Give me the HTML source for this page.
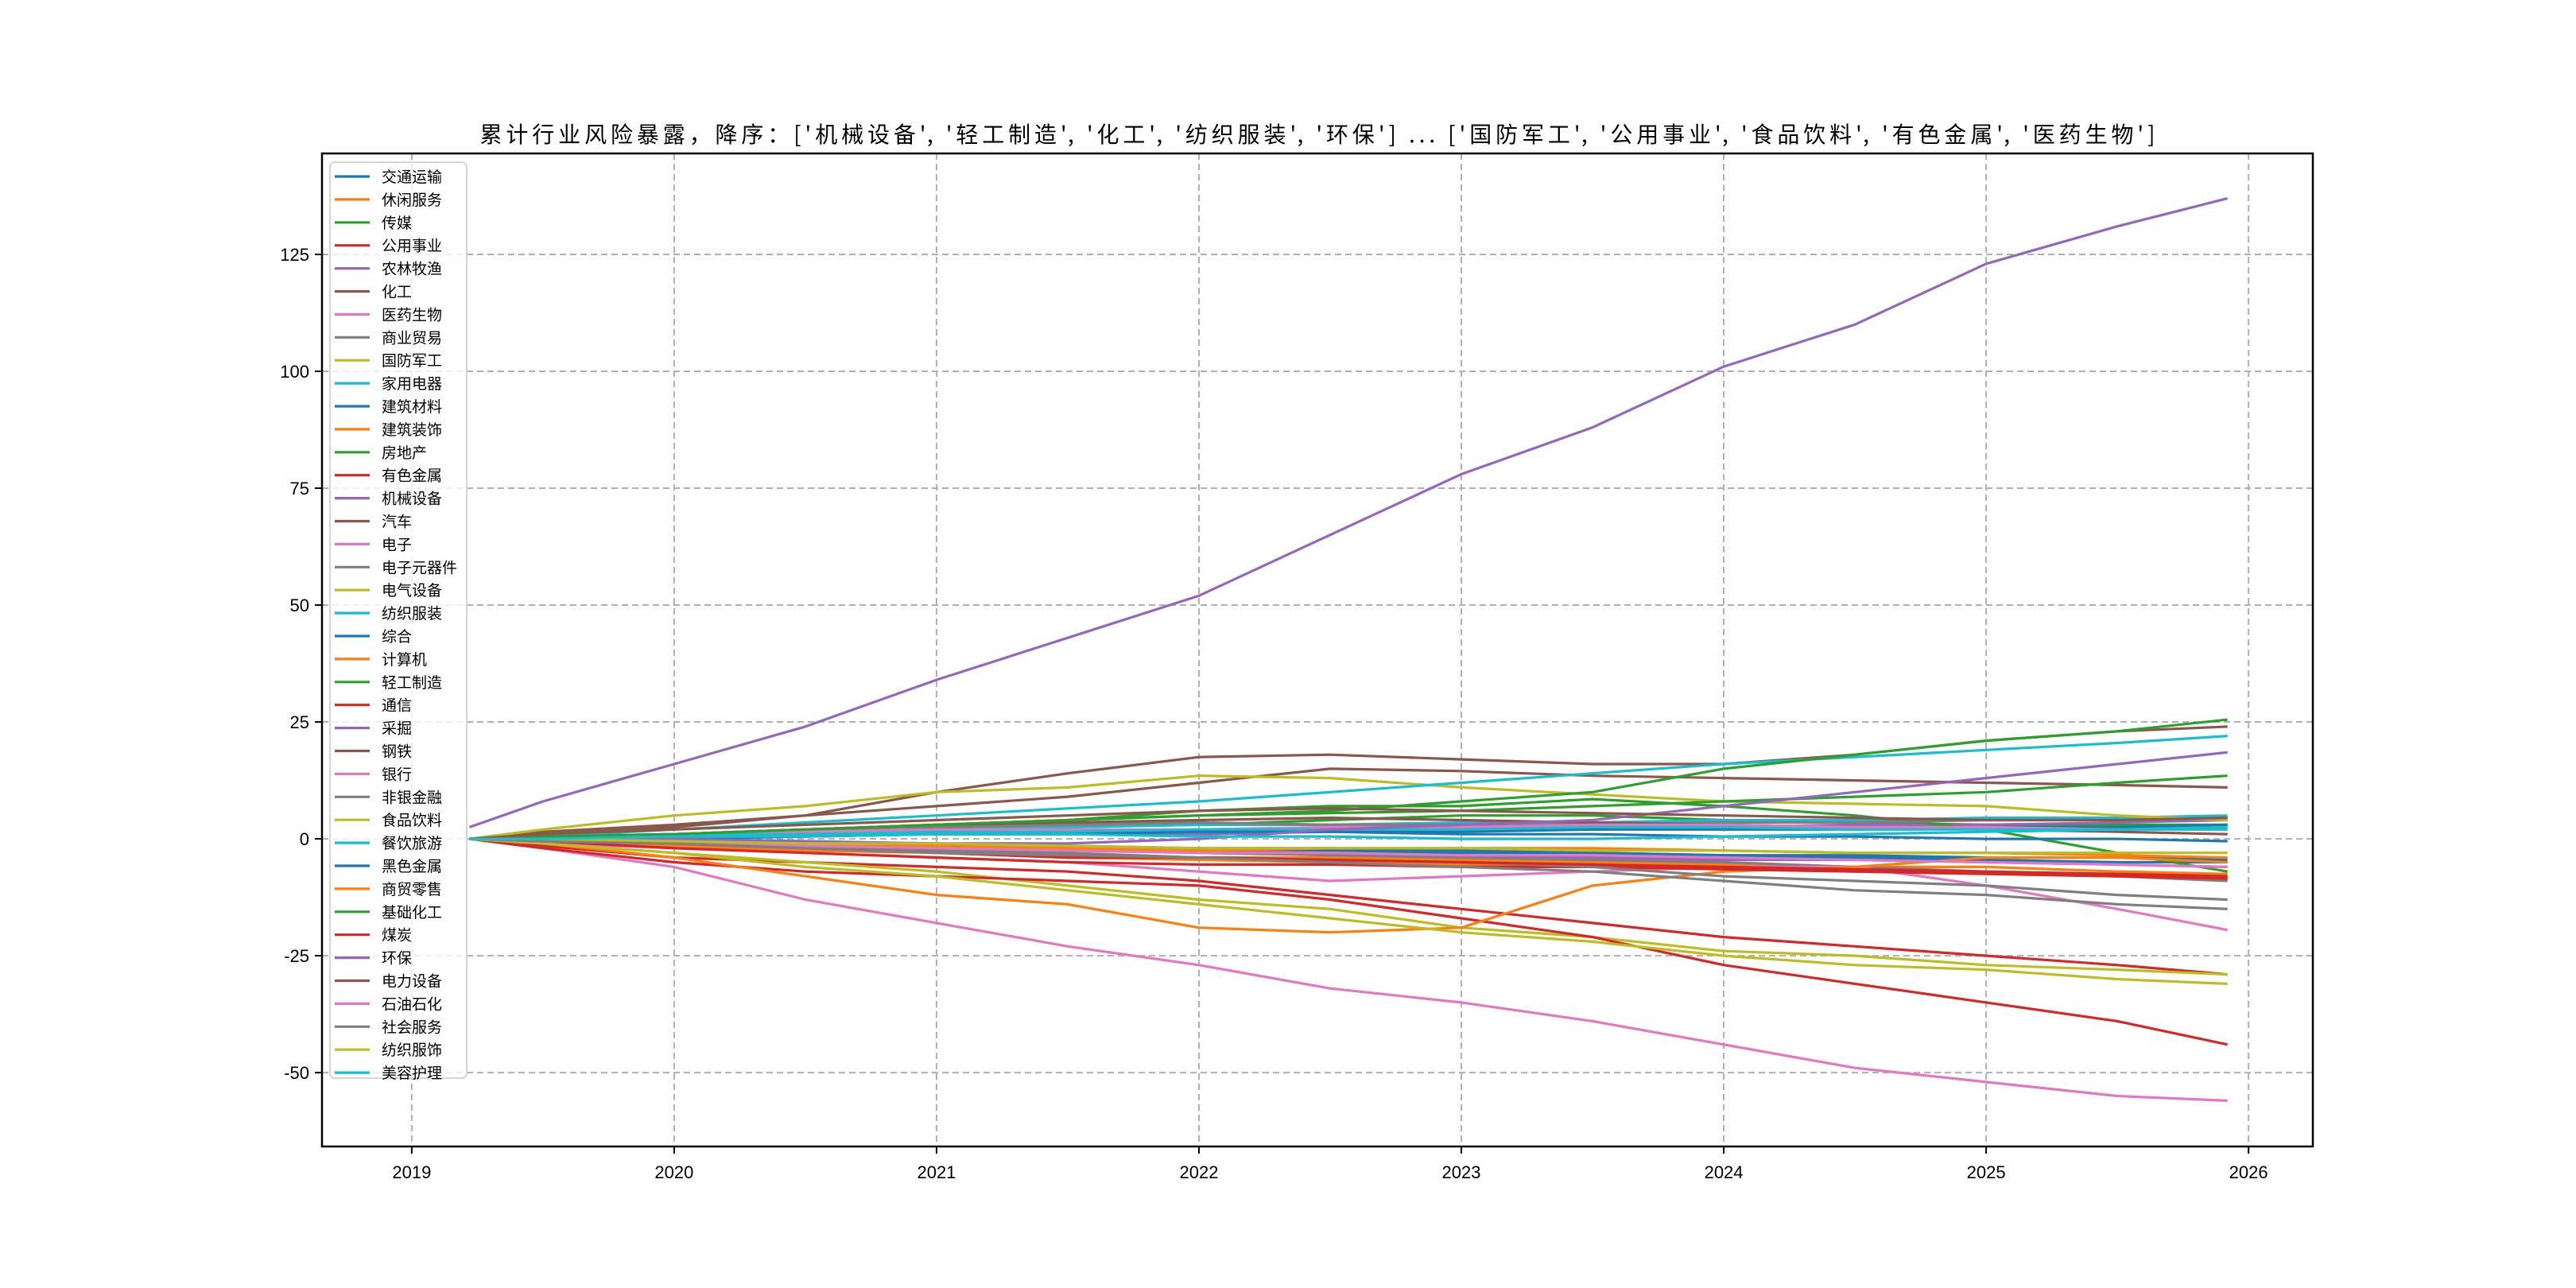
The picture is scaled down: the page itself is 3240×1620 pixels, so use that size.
<!DOCTYPE html>
<html><head><meta charset="utf-8">
<style>
html,body{margin:0;padding:0;background:#fff;}
svg{display:block;font-family:"Liberation Sans","Noto Sans CJK SC","WenQuanYi Zen Hei",sans-serif;}
</style></head>
<body>
<svg id="chart" width="3240" height="1620" viewBox="0 0 3240 1620" xmlns="http://www.w3.org/2000/svg">
<rect x="0" y="0" width="3240" height="1620" fill="#fff"/>
<text x="1657" y="179" text-anchor="middle" font-size="28" fill="#000" textLength="2107" lengthAdjust="spacing" style="font-family:'Noto Sans CJK SC','WenQuanYi Zen Hei',sans-serif">累计行业风险暴露，降序：['机械设备', '轻工制造', '化工', '纺织服装', '环保'] ... ['国防军工', '公用事业', '食品饮料', '有色金属', '医药生物']</text>
<g id="grid"></g>
<g id="series"></g>
<rect x="405" y="193" width="2504" height="1249" fill="none" stroke="#000" stroke-width="2.5"/>
<g id="axes"></g>
<g id="legend"></g>
</svg>
<script>
const times = [2019.22,2019.5,2020,2020.5,2021,2021.5,2022,2022.5,2023,2023.5,2024,2024.5,2025,2025.5,2025.92];
const xTicks = [2019,2020,2021,2022,2023,2024,2025,2026];
const yTicks = [-50,-25,0,25,50,75,100,125];
const names = ['交通运输','休闲服务','传媒','公用事业','农林牧渔','化工','医药生物','商业贸易','国防军工','家用电器','建筑材料','建筑装饰','房地产','有色金属','机械设备','汽车','电子','电子元器件','电气设备','纺织服装','综合','计算机','轻工制造','通信','采掘','钢铁','银行','非银金融','食品饮料','餐饮旅游','黑色金属','商贸零售','基础化工','煤炭','环保','电力设备','石油石化','社会服务','纺织服饰','美容护理'];
const s00=[0,0,-0.5,-1,-1,-1.5,-2,-2,-2.5,-3,-3.5,-4,-4.5,-5,-5];
const s01=[0,-0.5,-1,-2,-3,-3.5,-4,-4,-4.5,-5,-5.5,-6,-6,-7,-7.5];
const s02=[0,0.5,1,1.5,2,2.5,3,4,5,5,4,3.5,3,3,3];
const s03=[0,-1.5,-4,-5,-6,-7,-9,-12,-15,-18,-21,-23,-25,-27,-29];
const s04=[0,0,0.5,0.5,1,1,1,1.5,2,2,2.5,3,3,3.5,4];
const s05=[0,1.5,3,5,10,14,17.5,18,17,16,16,18,21,23,24];
const s06=[0,-2,-6,-13,-18,-23,-27,-32,-35,-39,-44,-49,-52,-55,-56];
const s07=[0,-0.5,-1,-1.5,-2,-2.5,-3,-3.5,-4,-4.5,-5,-6,-7,-8,-9];
const s08=[0,-1,-3,-5,-7,-10,-13,-15,-19,-21,-24,-25,-27,-28,-29];
const s09=[0,0.5,1,1.5,2,2.5,3,3,3.5,3.5,4,4,4.5,4.5,5];
const s10=[0,0,0,0.5,1,1,1.5,1.5,1.5,2,2,2,2.5,2.5,3];
const s11=[0,-0.5,-1.5,-2.5,-3,-4,-4.5,-5,-5.5,-6,-6.5,-7,-7.5,-8,-8.5];
const s12=[0,0.5,1,2,3,4,6,7,7,8.5,7,5,2,-3,-7];
const s13=[0,-2,-5,-7,-8,-9,-10,-13,-17,-21,-27,-31,-35,-39,-44];
const s14=[2.5,8,16,24,34,43,52,65,78,88,101,110,123,131,137];
const s15=[0,1,2.5,5,7,9,12,15,14.5,13.5,13,12.5,12,11.5,11];
const s16=[0,-1,-2,-3,-4,-5,-7,-9,-8,-7,-6,-6,-10,-15,-19.5];
const s17=[0,0.5,1,2,2.5,3,3.5,3,3,3,3.5,3.5,4,4,4.5];
const s18=[0,2,5,7,10,11,13.5,13,11,9.5,8,7.5,7,5,4];
const s19=[0,0.5,2,3.5,5,6.5,8,10,12,14,16,17.5,19,20.5,22];
const s20=[0,-0.5,-1,-1.5,-2,-2,-2.5,-2.5,-3,-3,-3.5,-3.5,-4,-4,-4.5];
const s21=[0,-1,-4,-8,-12,-14,-19,-20,-19,-10,-7,-6,-4,-4,-5];
const s22=[0,0.5,1,2,3,4,5,6,8,10,15,18,21,23,25.5];
const s23=[0,-0.5,-2,-3,-4,-5,-5.5,-5.5,-6,-6,-6.5,-7,-7.5,-8,-8.5];
const s24=[0,0,-0.5,-1,-1.5,-2,-2.5,-3,-3.5,-4,-4.5,-4.5,-5,-5.5,-6];
const s25=[0,0.5,1,2,3,3.5,4,4.5,4,3.5,3,2.5,2,1.5,1];
const s26=[0,0.5,1,1.5,2,2,2,2.5,2.5,3,3,2.5,2.5,2,2];
const s27=[0,-0.5,-1,-2,-2.5,-3,-4,-4.5,-5,-6,-8,-9,-10,-12,-13];
const s28=[0,-1,-3,-6,-8,-11,-14,-17,-20,-22,-25,-27,-28,-30,-31];
const s29=[0,0.5,1,1,1.5,1.5,2,2,2,2.5,2.5,2,2,2,2];
const s30=[0,0,0.5,0.5,1,1,1.5,1.5,1,1,0.5,0.5,0,0,-0.5];
const s31=[0,0,-0.5,-1,-1.5,-2,-2.5,-2,-2,-2,-2.5,-3,-3,-3.5,-4];
const s32=[0,0.5,1,2,3,4,5,5.5,6,7,8,9,10,12,13.5];
const s33=[0,-0.5,-1,-2,-3,-4,-4,-4.5,-5,-5.5,-6,-6.5,-7,-7.5,-8];
const s34=[0,0,0,-0.5,-1,-1,0,2,3,4,7,10,13,16,18.5];
const s35=[0,1,2,3,4,5,6,6.5,6,5.5,5,4.5,4,4,4.5];
const s36=[0,-0.5,-1,-1.5,-2,-2.5,-3,-3,-3.5,-3.5,-4,-4.5,-5,-5.5,-6];
const s37=[0,-0.5,-1,-2,-3,-3.5,-4,-5,-6,-7,-9,-11,-12,-14,-15];
const s38=[0,0,-0.5,-1,-1,-1.5,-2,-2,-2,-2.5,-2.5,-3,-3,-3,-3];
const s39=[0,0,0.5,0.5,1,1,0.5,0.5,0,0,0.5,1,1.5,2,2.5];
const seriesValues=[s00,s01,s02,s03,s04,s05,s06,s07,s08,s09,s10,s11,s12,s13,s14,s15,s16,s17,s18,s19,s20,s21,s22,s23,s24,s25,s26,s27,s28,s29,s30,s31,s32,s33,s34,s35,s36,s37,s38,s39];

const NS='http://www.w3.org/2000/svg';
const L=405,R=2909,T=193,B=1442;
const X0=2018.658,X1=2026.245, Y0=-65.8, Y1=146.6;
const xs=v=>L+(v-X0)/(X1-X0)*(R-L);
const ys=v=>B-(v-Y0)/(Y1-Y0)*(B-T);
const palette=['#1f77b4','#ff7f0e','#2ca02c','#d62728','#9467bd','#8c564b','#e377c2','#7f7f7f','#bcbd22','#17becf'];
function mk(tag,attrs,parent){const e=document.createElementNS(NS,tag);for(const k in attrs)e.setAttribute(k,attrs[k]);parent.appendChild(e);return e;}
const grid=document.getElementById('grid'),axes=document.getElementById('axes'),ser=document.getElementById('series'),leg=document.getElementById('legend');
xTicks.forEach(t=>{const x=xs(t);
 const g=mk('line',{x1:x,x2:x,y1:T,y2:B,stroke:'#b0b0b0','stroke-width':2,'stroke-dasharray':'8,5'},grid);
 
 
 const tk=mk('line',{x1:x,x2:x,y1:B,y2:B+9,stroke:'#000','stroke-width':2},axes);
 
 
 const tx=mk('text',{x:x,y:B+40,'text-anchor':'middle','font-size':22,fill:'#000'},axes);
 tx.textContent=t;
 
 
});
yTicks.forEach(t=>{const y=ys(t);
 const g=mk('line',{x1:L,x2:R,y1:y,y2:y,stroke:'#b0b0b0','stroke-width':2,'stroke-dasharray':'8,5'},grid);
 
 
 const tk=mk('line',{x1:L-9,x2:L,y1:y,y2:y,stroke:'#000','stroke-width':2},axes);
 
 
 const tx=mk('text',{x:L-16,y:y+8,'text-anchor':'end','font-size':22,fill:'#000'},axes);
 tx.textContent=t;
 
 
});
seriesValues.forEach((vals,i)=>{
 const pts=vals.map((v,j)=>xs(times[j]).toFixed(1)+','+ys(v).toFixed(1)).join(' ');
 const p=mk('polyline',{points:pts,fill:'none',stroke:palette[i%10],'stroke-width':3.2,'stroke-linejoin':'round'},ser);
 
 
});
const lb=mk('rect',{x:415,y:204,width:172,height:1152,rx:6,fill:'#fff','fill-opacity':0.8,stroke:'#d5d5d5','stroke-width':2},leg);


names.forEach((n,i)=>{const y=222+i*28.9;
 const g=mk('g',{},leg);
 
 
 mk('line',{x1:421,x2:465,y1:y,y2:y,stroke:palette[i%10],'stroke-width':3.2},g);
 const t=mk('text',{x:480,y:y+7,'font-size':19,fill:'#000'},g);
 t.textContent=n;
});
</script>
</body></html>
